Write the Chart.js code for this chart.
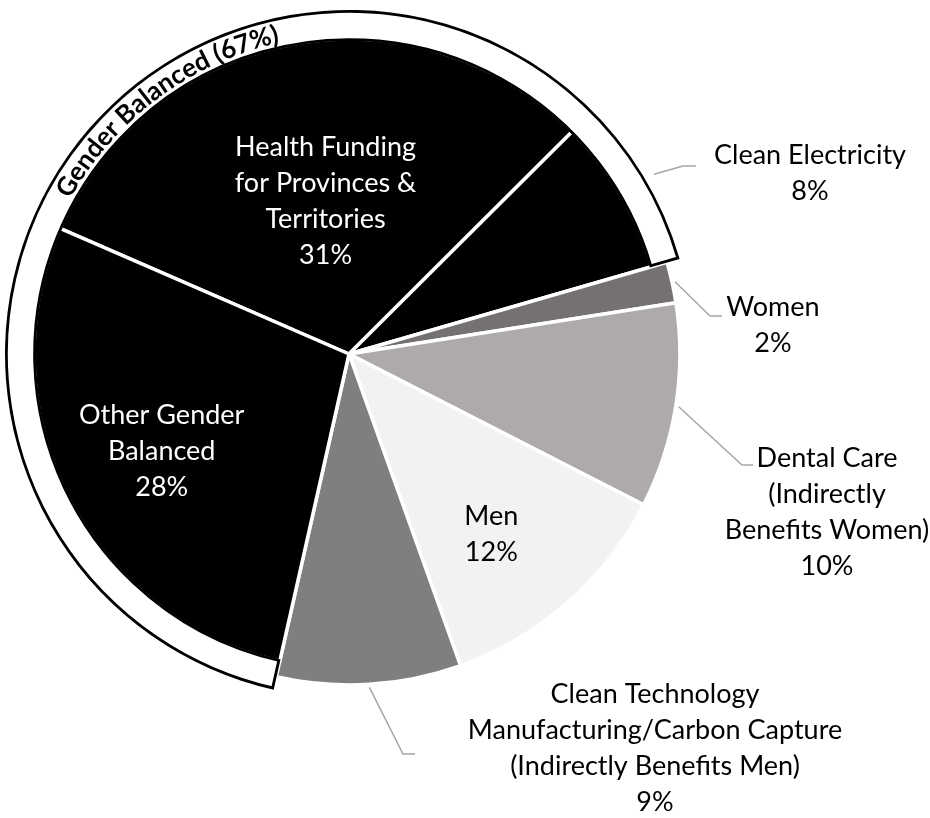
<!DOCTYPE html>
<html>
<head>
<meta charset="utf-8">
<script src="https://cdn.jsdelivr.net/npm/chart.js@4.4.1/dist/chart.umd.min.js"></script>
<style>
  html, body { margin: 0; padding: 0; background: #ffffff; }
  #wrap { width: 930px; height: 818px; }
</style>
</head>
<body>
<div id="wrap"><canvas id="c" width="930" height="818"></canvas></div>
<script>
// Spending shares (%) by gender impact
const categories = [
  'Health Funding for Provinces & Territories',
  'Clean Electricity',
  'Women',
  'Dental Care (Indirectly Benefits Women)',
  'Men',
  'Clean Technology Manufacturing/Carbon Capture (Indirectly Benefits Men)',
  'Other Gender Balanced'
];
const shares = [31, 8, 2, 10, 12, 9, 28];

// How each category name is broken over lines
const labelLines = [
  ['Health Funding', 'for Provinces &', 'Territories'],
  ['Clean Electricity'],
  ['Women'],
  ['Dental Care', '(Indirectly', 'Benefits Women)'],
  ['Men'],
  ['Clean Technology', 'Manufacturing/Carbon Capture', '(Indirectly Benefits Men)'],
  ['Other Gender', 'Balanced']
];

// Slices grouped under the outer band
const groupLabel = 'Gender Balanced';
const groupMembers = [6, 0, 1];

const sliceColors = ['#000000', '#000000', '#767171', '#AEAAAA', '#F2F2F2', '#7F7F7F', '#000000'];

const total = shares.reduce((a, b) => a + b, 0);
const groupTotal = groupMembers.reduce((s, i) => s + shares[i], 0);

// Geometry / styling
const START_ROTATION = -66.5;           // degrees, where the first slice begins
const FONT = '27px Lato';
const LINE_H = 36;
const LEADER_COLOR = '#A6A6A6';

// The band starts where the first grouped slice (Other Gender Balanced) starts
const ringStart = START_ROTATION +
  shares.slice(0, groupMembers[0]).reduce((a, b) => a + b, 0) / total * 360;

// Label placement per slice
const labelPlacement = [
  { inside: true, frac: 0.495, turn: 2.0, color: '#ffffff' },
  { x: 810, y: 155, knee: [683, 166], end: [696, 166], gap: 10 },
  { x: 773, y: 307, knee: [710, 316], end: [722, 316], gap: 3 },
  { x: 827, y: 458, knee: [742, 465], end: [753, 465], gap: 3 },
  { inside: true, frac: 0.694, turn: 3.0, color: '#000000' },
  { x: 655, y: 694, knee: [403, 754], end: [415, 754], gap: 3 },
  { inside: true, frac: 0.674, turn: -0.5, color: '#ffffff' }
];

// Grey slices reach further out than the banded black ones
const reachPlugin = {
  id: 'sliceReach',
  afterDatasetsUpdate(chart) {
    const ring = chart.getDatasetMeta(0).data[0];
    const meta = chart.getDatasetMeta(1);
    meta.data.forEach((arc, i) => {
      arc.outerRadius = groupMembers.includes(i)
        ? ring.innerRadius + 4
        : ring.outerRadius * 0.962;
    });
  }
};

function drawLines(ctx, lines, cx, firstY, color) {
  ctx.fillStyle = color;
  lines.forEach((t, k) => ctx.fillText(t, cx, firstY + k * LINE_H));
}

const labelPlugin = {
  id: 'sliceLabels',
  afterDraw(chart) {
    const ctx = chart.ctx;
    const ring = chart.getDatasetMeta(0).data[0];
    const arcs = chart.getDatasetMeta(1).data;
    ctx.save();
    ctx.font = FONT;
    ctx.textAlign = 'center';
    ctx.textBaseline = 'middle';
    arcs.forEach((arc, i) => {
      const p = labelPlacement[i];
      const lines = labelLines[i].concat([shares[i] + '%']);
      const mid = (arc.startAngle + arc.endAngle) / 2;
      if (p.inside) {
        const base = groupMembers.includes(i) ? ring.innerRadius : arc.outerRadius;
        const a = mid + p.turn * Math.PI / 180;
        const cx = arc.x + Math.cos(a) * base * p.frac;
        const cy = arc.y + Math.sin(a) * base * p.frac;
        drawLines(ctx, lines, cx, cy - (lines.length - 1) * LINE_H / 2, p.color);
      } else {
        const base = groupMembers.includes(i) ? ring.outerRadius : arc.outerRadius;
        const r = base + p.gap;
        ctx.beginPath();
        ctx.moveTo(arc.x + Math.cos(mid) * r, arc.y + Math.sin(mid) * r);
        ctx.lineTo(p.knee[0], p.knee[1]);
        ctx.lineTo(p.end[0], p.end[1]);
        ctx.strokeStyle = LEADER_COLOR;
        ctx.lineWidth = 1.5;
        ctx.stroke();
        drawLines(ctx, lines, p.x, p.y, '#000000');
      }
    });

    // Curved caption inside the band
    const text = groupLabel + ' (' + groupTotal + '%)';
    ctx.font = 'bold 26px Lato';
    ctx.textAlign = 'left';
    ctx.textBaseline = 'alphabetic';
    ctx.fillStyle = '#000000';
    const rBase = ring.innerRadius + 6;
    const centerAngle = (323.2 - 90) * Math.PI / 180;
    const width = ctx.measureText(text).width;
    let ang = centerAngle - width / 2 / rBase;
    for (const ch of text) {
      const w = ctx.measureText(ch).width;
      const a = ang + w / 2 / rBase;
      ctx.save();
      ctx.translate(ring.x + Math.cos(a) * rBase, ring.y + Math.sin(a) * rBase);
      ctx.rotate(a + Math.PI / 2);
      ctx.fillText(ch, -w / 2, 0);
      ctx.restore();
      ang += w / rBase;
    }
    ctx.restore();
  }
};

new Chart(document.getElementById('c'), {
  type: 'pie',
  data: {
    labels: categories,
    datasets: [
      {
        data: [groupTotal, total - groupTotal],
        backgroundColor: ['#ffffff', 'rgba(0,0,0,0)'],
        borderColor: ['#000000', 'rgba(0,0,0,0)'],
        borderWidth: [2.5, 0],
        borderAlign: 'inner',
        rotation: ringStart,
        weight: 31
      },
      {
        data: shares,
        backgroundColor: sliceColors,
        borderColor: '#ffffff',
        borderWidth: 3.5,
        rotation: START_ROTATION,
        weight: 313
      }
    ]
  },
  options: {
    responsive: false,
    animation: false,
    devicePixelRatio: 1,
    events: [],
    radius: 344,
    layout: { padding: { left: 0, right: 232, top: 0, bottom: 110 } },
    plugins: {
      legend: { display: false },
      tooltip: { enabled: false },
      title: { display: false }
    }
  },
  plugins: [reachPlugin, labelPlugin]
});
</script>
</body>
</html>
